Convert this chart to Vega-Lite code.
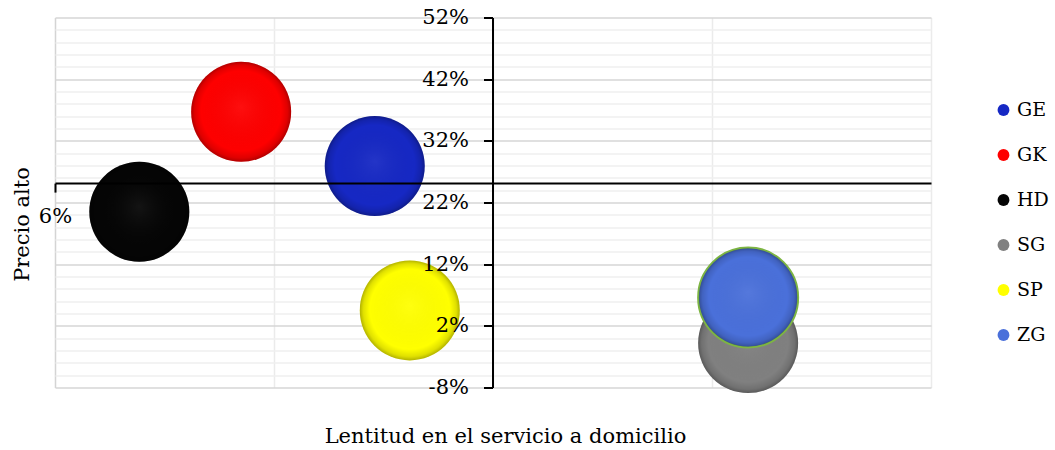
{
  "$schema": "https://vega.github.io/schema/vega-lite/v6.json",
  "width": 876,
  "height": 370,
  "autosize": {"type": "none"},
  "padding": {"left": 55, "top": 17.5, "right": 124, "bottom": 62.5},
  "background": "white",
  "config": {"view": {"stroke": null}, "font": "DejaVu Serif"},
  "data": {"values": [
    {"serie": "GE", "lentitud": 0.0892, "precio": 0.279},
    {"serie": "GK", "lentitud": 0.0770, "precio": 0.367},
    {"serie": "HD", "lentitud": 0.0677, "precio": 0.205},
    {"serie": "SG", "lentitud": 0.1233, "precio": -0.008},
    {"serie": "SP", "lentitud": 0.0924, "precio": 0.045},
    {"serie": "ZG", "lentitud": 0.1233, "precio": 0.066}
  ]},
  "layer": [
    {
      "transform": [{"filter": "datum.serie != 'ZG'"}],
      "mark": {"type": "point", "filled": true, "shape": "circle", "size": 10000, "opacity": 1, "strokeWidth": 0},
      "encoding": {
        "x": {"field": "lentitud", "type": "quantitative",
          "scale": {"domain": [0.06, 0.14], "nice": false, "zero": false},
          "axis": {"orient": "bottom", "values": [0.06, 0.08, 0.10, 0.12, 0.14], "labels": false, "ticks": false, "domain": false, "grid": true,
            "gridColor": {"condition": {"test": "datum.value <= 0.0601", "value": "#D4D4D4"}, "value": "#EBEBEB"},
            "gridWidth": 1.5, "title": "Lentitud en el servicio a domicilio", "titleFont": "DejaVu Serif", "titleFontSize": 21,
            "titleFontWeight": "normal", "titleColor": "#000000", "titlePadding": 38, "titleX": 450, "zindex": 0}},
        "y": {"field": "precio", "type": "quantitative",
          "scale": {"domain": [-0.08, 0.52], "nice": false, "zero": false},
          "axis": {"orient": "left", "values": [-0.08,-0.06,-0.04,-0.02,0,0.02,0.04,0.06,0.08,0.1,0.12,0.14,0.16,0.18,0.2,0.22,0.24,0.26,0.28,0.3,0.32,0.34,0.36,0.38,0.4,0.42,0.44,0.46,0.48,0.5,0.52],
            "labels": false, "ticks": false, "domain": false, "grid": true,
            "gridColor": {"condition": {"test": "round((datum.value + 0.08) * 100) % 10 == 0", "value": "#D6D6D6"}, "value": "#EFEFEF"},
            "gridWidth": 1.5, "title": "Precio alto", "titleFont": "DejaVu Serif", "titleFontSize": 21,
            "titleFontWeight": "normal", "titleColor": "#000000", "titlePadding": 23, "titleY": 206.5, "zindex": 0}},
        "color": {"field": "serie", "type": "nominal",
          "scale": {"domain": ["GE", "GK", "HD", "SG", "SP", "ZG"], "range": ["#1628C4", "#FE0000", "#050505", "#808080", "#FFFF00", "#4A70DA"]},
          "legend": {"orient": "none", "legendX": 939, "legendY": 83, "title": null, "labelFont": "DejaVu Serif", "labelFontSize": 19,
            "labelColor": "#000000", "symbolType": "circle", "symbolSize": 140, "symbolStrokeWidth": 0, "rowPadding": 25, "labelOffset": 4, "padding": 0}}
      }
    },
    {
      "transform": [{"filter": "datum.serie != 'ZG'"}],
      "mark": {"type": "point", "filled": true, "shape": "circle", "size": 10000, "opacity": 1, "strokeWidth": 0,
        "fill": {"gradient": "radial", "x1": 0.5, "y1": 0.45, "r1": 0, "x2": 0.5, "y2": 0.5, "r2": 0.5,
          "stops": [{"offset": 0, "color": "rgba(255,255,255,0.06)"}, {"offset": 0.8, "color": "rgba(0,0,0,0)"}, {"offset": 0.93, "color": "rgba(0,0,0,0.12)"}, {"offset": 1, "color": "rgba(0,0,0,0.3)"}]}},
      "encoding": {
        "x": {"field": "lentitud", "type": "quantitative", "axis": null},
        "y": {"field": "precio", "type": "quantitative", "axis": null}
      }
    },
    {
      "transform": [{"filter": "datum.serie == 'ZG'"}],
      "mark": {"type": "point", "filled": true, "shape": "circle", "size": 10000, "opacity": 1, "stroke": "#7DB543", "strokeWidth": 2},
      "encoding": {
        "x": {"field": "lentitud", "type": "quantitative", "axis": null},
        "y": {"field": "precio", "type": "quantitative", "axis": null},
        "color": {"field": "serie", "type": "nominal"}
      }
    },
    {
      "transform": [{"filter": "datum.serie == 'ZG'"}],
      "mark": {"type": "point", "filled": true, "shape": "circle", "size": 9700, "opacity": 1, "strokeWidth": 0,
        "fill": {"gradient": "radial", "x1": 0.5, "y1": 0.45, "r1": 0, "x2": 0.5, "y2": 0.5, "r2": 0.5,
          "stops": [{"offset": 0, "color": "rgba(255,255,255,0.06)"}, {"offset": 0.8, "color": "rgba(0,0,0,0)"}, {"offset": 0.93, "color": "rgba(0,0,0,0.12)"}, {"offset": 1, "color": "rgba(0,0,0,0.3)"}]}},
      "encoding": {
        "x": {"field": "lentitud", "type": "quantitative", "axis": null},
        "y": {"field": "precio", "type": "quantitative", "axis": null}
      }
    },
    {
      "mark": {"type": "point", "opacity": 0},
      "encoding": {
        "x": {"field": "lentitud", "type": "quantitative",
          "axis": {"orient": "bottom", "offset": -204.4, "values": [0.06], "format": ".0%", "grid": false,
            "domain": true, "domainColor": "#000000", "domainWidth": 2,
            "ticks": true, "tickSize": 9, "tickWidth": 2, "tickColor": "#000000",
            "labelFont": "DejaVu Serif", "labelFontSize": 21, "labelColor": "#000000", "labelPadding": 13, "labelFlush": false,
            "title": null, "zindex": 1}},
        "y": {"field": "precio", "type": "quantitative",
          "axis": {"orient": "left", "offset": -437.5, "values": [-0.08, 0.02, 0.12, 0.22, 0.32, 0.42, 0.52], "format": ".0%", "grid": false,
            "labelExpr": "replace(datum.label, '\u2212', '-')",
            "domain": true, "domainColor": "#000000", "domainWidth": 2,
            "ticks": true, "tickSize": 9, "tickWidth": 2, "tickColor": "#000000",
            "labelFont": "DejaVu Serif", "labelFontSize": 21, "labelColor": "#000000", "labelPadding": 15, "labelFlush": false,
            "title": null, "zindex": 1}}
      }
    }
  ],
  "resolve": {"axis": {"x": "independent", "y": "independent"}}
}
